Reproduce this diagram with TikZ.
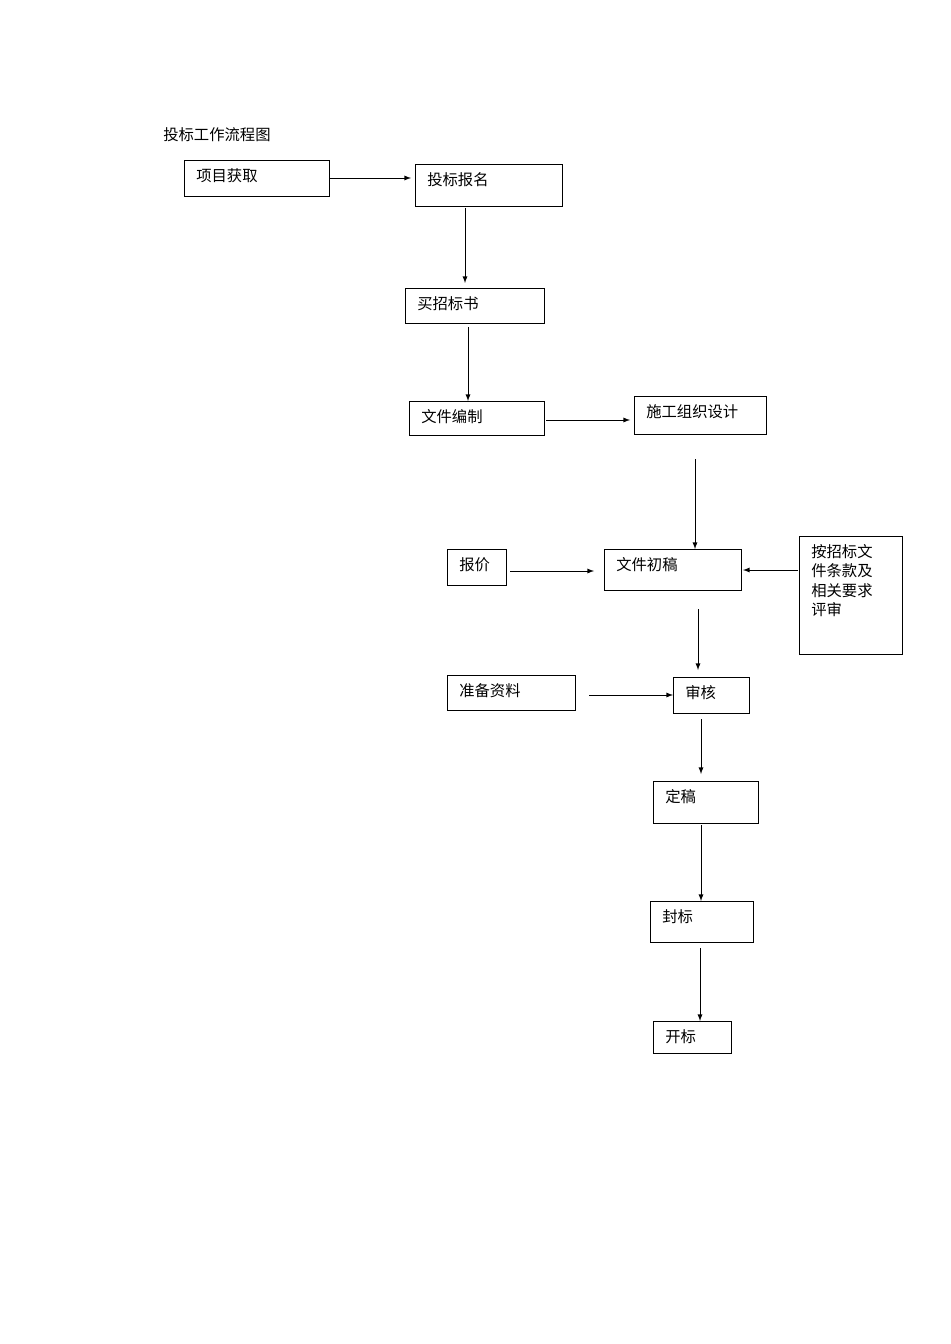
\documentclass[tikz,border=0pt]{standalone}
\usepackage{fontspec}
\newfontfamily\cjk{Noto Sans CJK SC}
\begin{document}
\begin{tikzpicture}[x=0.75pt,y=-0.75pt,
  boxst/.style={draw,line width=0.8pt,inner sep=0pt},
  txt/.style={font=\cjk\fontsize{11.5pt}{14pt}\selectfont,anchor=north west,inner sep=0pt,align=left},
  arr/.style={-latex,line width=0.7pt}]
\useasboundingbox (0,0) rectangle (950,1344);
\newcommand{\bx}[6]{%
  \node[boxst,minimum width={(#4-#2)*0.75pt},minimum height={(#5-#3)*0.75pt},anchor=north west] (#1) at (#2,#3) {};
  \node[txt] at (#2+12,#3+8) {#6};}
\node[txt] (title) at (163,127) {投标工作流程图};
\bx{a}{184}{160}{329}{196}{项目获取}
\bx{b}{415}{164}{562}{206}{投标报名}
\bx{c}{405}{288}{544}{323}{买招标书}
\bx{d}{409}{401}{544}{435}{文件编制}
\bx{e}{634}{396}{766}{434}{施工组织设计}
\bx{f}{447}{549}{506}{585}{报价}
\bx{g}{604}{549}{741}{590}{文件初稿}
\node[boxst,minimum width={103*0.75pt},minimum height={118*0.75pt},anchor=north west] (h) at (799,536) {};
\node[txt,font=\cjk\fontsize{11.5pt}{14.6pt}\selectfont] at (811,544) {按招标文\\件条款及\\相关要求\\评审};
\bx{i}{447}{675}{575}{710}{准备资料}
\bx{j}{673}{677}{749}{713}{审核}
\bx{k}{653}{781}{758}{823}{定稿}
\bx{l}{650}{901}{753}{942}{封标}
\bx{m}{653}{1021}{731}{1053}{开标}
\coordinate (p1) at (465,208); \coordinate (p2) at (468,327);
\coordinate (p3) at (695,459); \coordinate (p4) at (510,571);
\coordinate (p5) at (698,609); \coordinate (p6) at (589,695);
\coordinate (p7) at (701,719); \coordinate (p8) at (700,948);
\draw[arr] (329,178) -- (411,178);
\draw[arr] (p1) -- (465,283);
\draw[arr] (p2) -- (468,401);
\draw[arr] (546,420) -- (630,420);
\draw[arr] (p3) -- (695,549);
\draw[arr] (p4) -- (594,571);
\draw[arr] (798,570) -- (743,570);
\draw[arr] (p5) -- (698,670);
\draw[arr] (p6) -- (673,695);
\draw[arr] (p7) -- (701,774);
\draw[arr] (701,825) -- (701,901);
\draw[arr] (p8) -- (700,1021);
\end{tikzpicture}
\end{document}
